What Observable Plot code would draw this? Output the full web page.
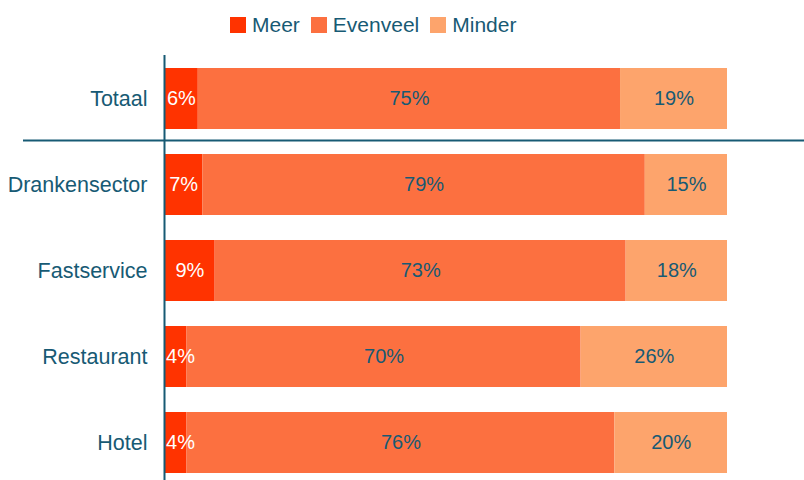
<!DOCTYPE html>
<html>
<head>
<meta charset="utf-8">
<script src="https://cdn.jsdelivr.net/npm/d3@7"></script>
<script src="https://cdn.jsdelivr.net/npm/@observablehq/plot@0.6"></script>
<style>
  html, body { margin: 0; padding: 0; background: #fff; }
  body { width: 804px; height: 480px; position: relative; overflow: hidden; font-family: "Liberation Sans", Arial, sans-serif; }
  #legend { position: absolute; top: 13px; left: 230px; display: flex; align-items: center; font-size: 21px; color: #175A74; line-height: 24px; }
  #legend .item { display: flex; align-items: center; margin-right: 11px; }
  #legend .sw { width: 16px; height: 16px; margin-right: 6px; }
  #chart { position: absolute; top: 0; left: 0; }
</style>
</head>
<body>
<div id="legend"></div>
<div id="chart"></div>
<script>
const categories = ["Totaal", "Drankensector", "Fastservice", "Restaurant", "Hotel"];
const seriesNames = ["Meer", "Evenveel", "Minder"];
const meer     = [6, 6.8, 9, 4, 4];
const evenveel = [75, 78.6, 73, 70, 76];
const minder   = [19, 14.6, 18, 26, 20];
const colors = ["#FF3300", "#FC7040", "#FDA46C"];
const textColors = ["#ffffff", "#175A74", "#175A74"];
const ink = "#175A74";

const values = [meer, evenveel, minder];
const rows = [];
categories.forEach((c, i) => {
  let acc = 0;
  values.forEach((arr, s) => {
    const v = arr[i];
    rows.push({cat: c, series: seriesNames[s], value: v, x1: acc, x2: acc + v,
               lx: Math.max(acc + v / 2, acc + 2.85), tc: textColors[s]});
    acc += v;
  });
});

// legend
const legend = document.getElementById("legend");
seriesNames.forEach((n, i) => {
  const it = document.createElement("div");
  it.className = "item";
  it.innerHTML = `<span class="sw" style="background:${colors[i]}"></span><span>${n}</span>`;
  legend.appendChild(it);
});

const separator = (index, scales, values, dims) => {
  const y = scales.y;
  const bw = y.bandwidth();
  const step = y.step();
  const yy = y(categories[0]) + bw + (step - bw) / 2 - 1;
  const g = d3.create("svg:line")
    .attr("x1", 23).attr("x2", dims.width)
    .attr("y1", yy).attr("y2", yy)
    .attr("stroke", ink).attr("stroke-width", 2);
  return g.node();
};

const plot = Plot.plot({
  width: 804,
  height: 480,
  marginLeft: 164,
  marginRight: 77,
  marginTop: 66,
  marginBottom: 5,
  style: {fontFamily: "Liberation Sans, Arial, sans-serif", background: "transparent"},
  x: {domain: [0, 100], axis: null},
  y: {domain: categories, paddingInner: 0.285, paddingOuter: 0, label: null},
  color: {domain: seriesNames, range: colors},
  marks: [
    Plot.barX(rows, {y: "cat", x1: "x1", x2: "x2", fill: "series"}),
    Plot.text(rows, {y: "cat", x: "lx", text: d => Math.round(d.value) + "%", fill: "tc", fontSize: 20}),
    Plot.axisY({tickSize: 0, tickPadding: 17, fontSize: 21.5, color: ink, label: null}),
    Plot.ruleX([0], {stroke: ink, strokeWidth: 2, insetTop: -11, insetBottom: -6}),
    separator
  ]
});
document.getElementById("chart").appendChild(plot);
</script>
</body>
</html>
